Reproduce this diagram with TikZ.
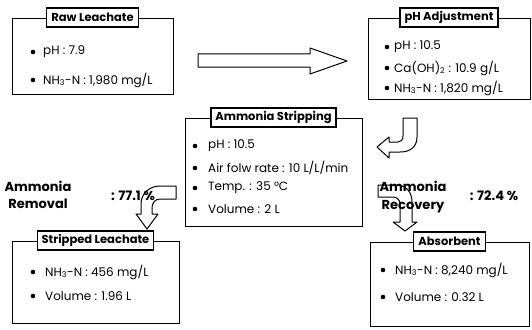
\documentclass[tikz,border=0pt]{standalone}
\usepackage{fontspec}
\setmainfont{Poppins}
\begin{document}
\begin{tikzpicture}[x=1pt,y=-1pt,
  box/.style={draw, line width=0.9pt, inner sep=0pt},
  ttl/.style={draw, fill=white, line width=1.2pt, font=\fontsize{11.5}{12}\selectfont\bfseries, inner xsep=4.5pt, inner ysep=0pt, minimum height=19pt},
  txt/.style={anchor=west, font=\fontsize{12}{13}\selectfont, inner sep=0pt},
  dot/.style={fill=black, circle, inner sep=0pt, minimum size=4.6pt},
  arr/.style={draw, line width=1pt, fill=white, line join=round},
  lbl/.style={font=\fontsize{13}{17.5}\selectfont\bfseries, align=center, inner sep=0pt}]
\useasboundingbox (0,0) rectangle (532,329);
% main boxes
\node[box, minimum width=161pt, minimum height=76pt] (raw) at (92.5,56) {};
\node[box, minimum width=162pt, minimum height=81pt] (phadj) at (449,58.5) {};
\node[box, minimum width=177pt, minimum height=108pt] (strip) at (273.5,172) {};
\node[box, minimum width=167pt, minimum height=82pt] (strl) at (95.5,282) {};
\node[box, minimum width=159pt, minimum height=84pt] (absb) at (449.5,284) {};
% titles
\node[ttl] (rawt) at (raw.north) {Raw Leachate};
\node[ttl] (phadjt) at (phadj.north) {pH Adjustment};
\node[ttl] (stript) at (strip.north) {Ammonia Stripping};
\node[ttl] (strlt) at (strl.north) {Stripped Leachate};
\node[ttl] (absbt) at (absb.north) {Absorbent};
% raw leachate items
\node[dot] (rd1) at (33,52) {};
\node[txt] (rt1) at (43,52) {pH : 7.9};
\node[dot] (rd2) at (33,80) {};
\node[txt] (rt2) at (43,80) {NH\textsubscript{3}-N : 1,980 mg/L};
% pH adjustment items
\node[dot] (pd1) at (387,47) {};
\node[txt] (pt1) at (394,47) {pH : 10.5};
\node[dot] (pd2) at (387,68) {};
\node[txt] (pt2) at (394,68) {Ca(OH)\textsubscript{2} : 10.9 g/L};
\node[dot] (pd3) at (387,88) {};
\node[txt] (pt3) at (394,88) {NH\textsubscript{3}-N : 1,820 mg/L};
% stripping items
\node[dot] (sd1) at (195,146) {};
\node[txt] (st1) at (208,146) {pH : 10.5};
\node[dot] (sd2) at (195,168) {};
\node[txt] (st2) at (208,168) {Air folw rate : 10 L/L/min};
\node[dot] (sd3) at (195,188) {};
\node[txt] (st3) at (208,188) {Temp. : 35 °C};
\node[dot] (sd4) at (195,209) {};
\node[txt] (st4) at (208,209) {Volume : 2 L};
% stripped leachate items
\node[dot] (ld1) at (33,272) {};
\node[txt] (lt1) at (45,272) {NH\textsubscript{3}-N : 456 mg/L};
\node[dot] (ld2) at (33,296) {};
\node[txt] (lt2) at (45,296) {Volume : 1.96 L};
% absorbent items
\node[dot] (ad1) at (383,270) {};
\node[txt] (at1) at (395,270) {NH\textsubscript{3}-N : 8,240 mg/L};
\node[dot] (ad2) at (383,297) {};
\node[txt] (at2) at (395,297) {Volume : 0.32 L};
% block arrows
\draw[arr] (198,54) -- (310,54) -- (310,48) -- (347,61) -- (310,74) -- (310,67) -- (198,67) -- cycle;
\draw[arr] (403,118) -- (417,118) -- (417,137) .. controls (417,147) and (410,152) .. (400,152) -- (389,152) -- (389,158) -- (377,147) -- (389,137) -- (389,142) -- (398,142) .. controls (401,142) and (403,140) .. (403,136) -- cycle;
\draw[arr] (176,186) -- (176,199) -- (160,199) .. controls (155,199) and (152,203) .. (152,208) -- (152,214) -- (158,214) -- (147,229) -- (136,214) -- (141,214) -- (141,204) .. controls (141,193) and (150,186) .. (160,186) -- cycle;
\draw[arr] (378,185) -- (396,185) .. controls (406,185) and (412,192) .. (412,202) -- (412,222) -- (417,222) -- (405,231) -- (393,222) -- (400,222) -- (400,204) .. controls (400,200) and (397,197) .. (393,197) -- (378,197) -- cycle;
% labels
\node[lbl] (remv) at (38,195) {Ammonia\\Removal};
\node[lbl] (remp) at (133,196) {: 77.1 \%};
\node[lbl] (recv) at (413,197) {Ammonia\\Recovery};
\node[lbl] (recp) at (494,196) {: 72.4 \%};
\end{tikzpicture}
\end{document}
